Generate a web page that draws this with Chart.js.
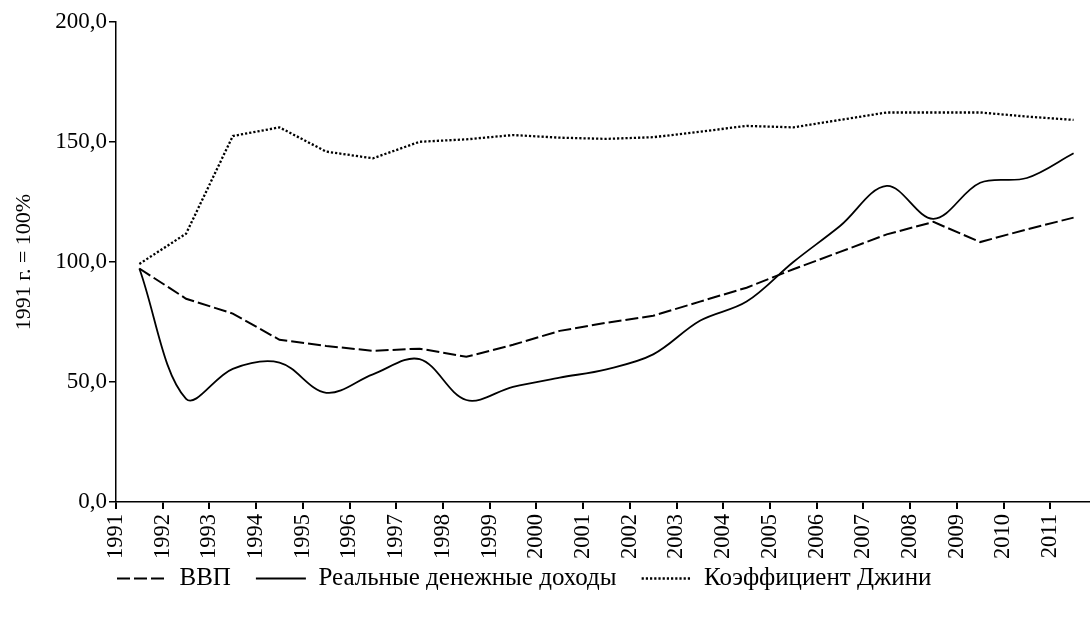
<!DOCTYPE html>
<html>
<head>
<meta charset="utf-8">
<script src="https://cdn.jsdelivr.net/npm/chart.js@4.4.1/dist/chart.umd.min.js"></script>
<style>
html, body { margin: 0; padding: 0; background: #fff; }
</style>
</head>
<body>
<canvas id="grafica" width="1091" height="617"></canvas>
<script>
var years = [1991, 1992, 1993, 1994, 1995, 1996, 1997, 1998, 1999, 2000, 2001,
             2002, 2003, 2004, 2005, 2006, 2007, 2008, 2009, 2010, 2011];

var vvp = [97.3, 84.7, 78.5, 67.6, 65.0, 63.0, 63.9, 60.5, 65.5, 71.3, 74.7,
           77.6, 83.5, 89.3, 97.0, 104.2, 111.5, 116.7, 108.3, 113.6, 118.5];

var dohody = [97.3, 43.0, 55.5, 58.1, 45.5, 53.2, 59.5, 42.5, 48.0, 51.8, 55.3,
              61.5, 75.5, 83.5, 100.0, 115.0, 131.7, 118.0, 133.0, 135.0, 145.3];

var gini = [99.2, 111.8, 152.5, 156.1, 146.0, 143.2, 150.1, 151.1, 152.9, 151.8, 151.3,
            152.0, 154.3, 156.7, 156.1, 159.2, 162.3, 162.3, 162.3, 160.6, 159.2];

var yTicks = [0, 50, 100, 150, 200];

// each value sits in the middle of its year
function puntos(vals) {
    return vals.map(function (v, i) {
        return {x: years[i] + 0.5, y: v};
    });
}

Chart.defaults.font.family = "'Liberation Serif', 'Times New Roman', serif";
Chart.defaults.color = '#000';

var borde = {color: '#000', width: 1.5};

var ctx = document.getElementById('grafica').getContext('2d');
var grafico = new Chart(ctx, {
    type: 'line',
    data: {
        datasets: [
            {
                label: 'ВВП',
                data: puntos(vvp),
                borderColor: '#000',
                borderWidth: 2,
                borderDash: [13, 4],
                tension: 0,
                pointRadius: 0
            },
            {
                label: 'Реальные денежные доходы',
                data: puntos(dohody),
                borderColor: '#000',
                borderWidth: 1.8,
                tension: 0.35,
                pointRadius: 0
            },
            {
                label: 'Коэффициент Джини',
                data: puntos(gini),
                borderColor: '#000',
                borderWidth: 2.3,
                borderDash: [2.2, 2],
                tension: 0,
                pointRadius: 0
            }
        ]
    },
    options: {
        responsive: false,
        animation: false,
        devicePixelRatio: 1,
        layout: {padding: {top: 22, right: 2, bottom: -3, left: 0}},
        scales: {
            x: {
                type: 'linear',
                min: 1991,
                max: 2011.83,
                afterBuildTicks: function (s) {
                    s.ticks = years.map(function (y) { return {value: y}; });
                },
                afterFit: function (s) { s.height = 58; },
                grid: {drawOnChartArea: false, drawTicks: true, tickLength: 7, color: '#000', lineWidth: 2},
                border: borde,
                ticks: {
                    minRotation: 90,
                    maxRotation: 90,
                    autoSkip: false,
                    padding: 5,
                    font: {size: 22.5},
                    callback: function (v) { return String(v); }
                }
            },
            y: {
                min: 0,
                max: 200,
                afterBuildTicks: function (s) {
                    s.ticks = yTicks.map(function (v) { return {value: v}; });
                },
                afterFit: function (s) { s.width = 116; },
                grid: {drawOnChartArea: false, drawTicks: true, tickLength: 7, color: '#000', lineWidth: 1.5},
                border: borde,
                ticks: {
                    padding: 2,
                    font: {size: 23},
                    callback: function (v) { return v.toFixed(1).replace('.', ','); }
                },
                title: {
                    display: true,
                    text: '1991 г. = 100%',
                    font: {size: 22},
                    padding: {top: 11, bottom: 0}
                }
            }
        },
        plugins: {
            legend: {
                position: 'bottom',
                align: 'start',
                fullSize: false,
                labels: {
                    usePointStyle: true,
                    pointStyle: 'line',
                    pointStyleWidth: 50,
                    padding: 25,
                    color: '#000',
                    font: {size: 25},
                    // legend samples take the dash and width of the line itself
                    generateLabels: function (chart) {
                        var items = Chart.defaults.plugins.legend.labels.generateLabels(chart);
                        items.forEach(function (it) {
                            var ds = chart.data.datasets[it.datasetIndex];
                            it.lineDash = ds.borderDash || [];
                            it.lineWidth = ds.borderWidth;
                            it.strokeStyle = '#000';
                        });
                        return items;
                    }
                }
            },
            tooltip: {enabled: false}
        }
    },
    plugins: [{
        id: 'moverLeyenda',
        afterLayout: function (chart) {
            chart.legend.left = 92;
            chart.legend.top = 541;
        }
    }]
});
</script>
</body>
</html>
